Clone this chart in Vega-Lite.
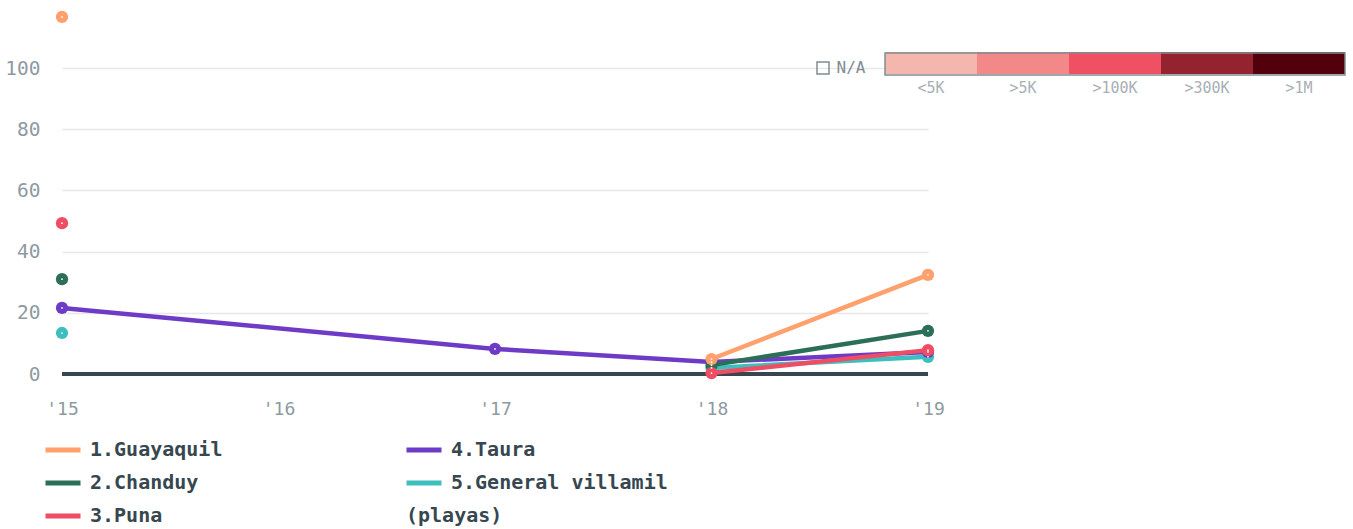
{
  "$schema": "https://vega.github.io/schema/vega-lite/v6.json",
  "width": 866,
  "height": 306,
  "autosize": {"type": "none"},
  "padding": {"left": 62, "top": 68, "right": 425, "bottom": 155},
  "background": "white",
  "config": {"view": {"stroke": null}, "font": "DejaVu Sans Mono"},
  "datasets": {
    "series": [
      {"series": "5.General villamil (playas)", "year": 2015, "value": 13.4, "seg": "a"},
      {"series": "5.General villamil (playas)", "year": 2018, "value": 2.0, "seg": "b"},
      {"series": "5.General villamil (playas)", "year": 2019, "value": 5.6, "seg": "b"},
      {"series": "4.Taura", "year": 2015, "value": 21.6, "seg": "a"},
      {"series": "4.Taura", "year": 2017, "value": 8.2, "seg": "a"},
      {"series": "4.Taura", "year": 2018, "value": 3.9, "seg": "a"},
      {"series": "4.Taura", "year": 2019, "value": 7.2, "seg": "a"},
      {"series": "2.Chanduy", "year": 2015, "value": 31.0, "seg": "a"},
      {"series": "2.Chanduy", "year": 2018, "value": 2.9, "seg": "b"},
      {"series": "2.Chanduy", "year": 2019, "value": 14.1, "seg": "b"},
      {"series": "3.Puna", "year": 2015, "value": 49.3, "seg": "a"},
      {"series": "3.Puna", "year": 2018, "value": 0.3, "seg": "b"},
      {"series": "3.Puna", "year": 2019, "value": 7.8, "seg": "b"},
      {"series": "1.Guayaquil", "year": 2015, "value": 116.7, "seg": "a"},
      {"series": "1.Guayaquil", "year": 2018, "value": 4.9, "seg": "b"},
      {"series": "1.Guayaquil", "year": 2019, "value": 32.4, "seg": "b"}
    ],
    "bands": [
      {"band": "<5K"}, {"band": ">5K"}, {"band": ">100K"}, {"band": ">300K"}, {"band": ">1M"}
    ],
    "na": [{"na": "N/A"}],
    "frame": [{"frame": "frame"}]
  },
  "layer": [
    {
      "data": {"name": "series"},
      "mark": {"type": "rule", "color": "#37474f", "strokeWidth": 3},
      "encoding": {"y": {"datum": 0, "type": "quantitative", "scale": {"domain": [0, 100], "nice": false}}}
    },
    {
      "data": {"name": "series"},
      "mark": {"type": "line", "strokeWidth": 4.5, "strokeCap": "round"},
      "encoding": {
        "x": {
          "field": "year", "type": "quantitative",
          "scale": {"domain": [2015, 2019], "nice": false, "zero": false},
          "axis": {
            "values": [2015, 2016, 2017, 2018, 2019],
            "labelExpr": "\"'\" + slice(toString(datum.value), 2)",
            "grid": false, "domain": false, "ticks": false, "tickSize": 0,
            "labelPadding": 26, "labelFlush": false,
            "labelFont": "DejaVu Sans Mono", "labelFontSize": 18, "labelColor": "#8e9aa1",
            "title": null
          }
        },
        "y": {
          "field": "value", "type": "quantitative",
          "scale": {"domain": [0, 100], "nice": false},
          "axis": {
            "values": [0, 20, 40, 60, 80, 100],
            "grid": true, "gridColor": "#e8e8e8", "gridWidth": 1.5,
            "domain": false, "ticks": false, "tickSize": 0, "labelPadding": 22,
            "labelFont": "DejaVu Sans Mono", "labelFontSize": 19.5, "labelColor": "#8e9aa1",
            "title": null
          }
        },
        "color": {
          "field": "series", "type": "nominal",
          "scale": {
            "domain": ["1.Guayaquil", "2.Chanduy", "3.Puna", "4.Taura", "5.General villamil (playas)", "(playas)"],
            "range": ["#ffa06d", "#2c6f57", "#ee4d63", "#6e3bc6", "#3fbebe", "transparent"]
          },
          "legend": {
            "title": null, "orient": "none", "legendX": -19, "legendY": 372,
            "columns": 2, "symbolType": "stroke", "symbolSize": 1225, "symbolStrokeWidth": 5,
            "labelFont": "DejaVu Sans Mono", "labelFontSize": 20, "labelFontWeight": "bold",
            "labelColor": "#37474f", "labelOffset": 7, "columnPadding": 181, "rowPadding": 13,
            "clipHeight": 20, "labelLimit": 400, "padding": 0,
            "labelExpr": "replace(datum.label, ' (playas)', '')",
            "encode": {
              "labels": {
                "update": {"dx": {"signal": "datum.label === '(playas)' ? -45 : 0"}}
              }
            }
          }
        },
        "detail": {"field": "seg"}
      }
    },
    {
      "data": {"name": "series"},
      "mark": {"type": "circle", "size": 150, "opacity": 1},
      "encoding": {
        "x": {"field": "year", "type": "quantitative"},
        "y": {"field": "value", "type": "quantitative"},
        "color": {"field": "series", "type": "nominal"}
      }
    },
    {
      "data": {"name": "series"},
      "mark": {"type": "circle", "size": 3, "color": "white", "opacity": 1},
      "encoding": {
        "x": {"field": "year", "type": "quantitative"},
        "y": {"field": "value", "type": "quantitative"}
      }
    },
    {
      "data": {"name": "bands"},
      "mark": {"type": "square", "opacity": 0},
      "encoding": {
        "fill": {
          "field": "band", "type": "nominal",
          "scale": {
            "domain": ["<5K", ">5K", ">100K", ">300K", ">1M"],
            "range": ["#f4b7ad", "#f28888", "#ef5064", "#95222f", "#52000c"]
          },
          "legend": {
            "title": null, "orient": "none", "legendX": 823, "legendY": -26,
            "direction": "horizontal", "columns": 5,
            "symbolType": "M-1,-0.7826H1V-0.3043H-1Z", "symbolSize": 8464,
            "symbolStrokeWidth": 0, "symbolOpacity": 1,
            "labelAlign": "center", "labelOffset": -46,
            "labelFont": "DejaVu Sans Mono", "labelFontSize": 15, "labelColor": "#a8b0b5",
            "columnPadding": 0, "padding": 0
          }
        }
      }
    },
    {
      "data": {"name": "na"},
      "mark": {"type": "point", "opacity": 0, "color": "#7f8c92"},
      "encoding": {
        "shape": {
          "field": "na", "type": "nominal",
          "scale": {"domain": ["N/A"], "range": ["square"]},
          "legend": {
            "title": null, "orient": "none", "legendX": 753, "legendY": -8,
            "symbolSize": 144, "symbolStrokeWidth": 1.5, "symbolStrokeColor": "#7f8c92",
            "symbolFillColor": "transparent", "symbolOpacity": 1,
            "labelOffset": 5.5, "labelFont": "DejaVu Sans Mono", "labelFontSize": 16,
            "labelColor": "#7f8c92", "padding": 0
          }
        }
      }
    },
    {
      "data": {"name": "frame"},
      "mark": {"type": "point", "opacity": 0},
      "encoding": {
        "stroke": {
          "field": "frame", "type": "nominal",
          "scale": {"domain": ["frame"], "range": ["#7f8c92"]},
          "legend": {
            "title": null, "orient": "none", "legendX": 822, "legendY": -235,
            "symbolType": "M-1,-0.0478H1V0.0478H-1Z", "symbolSize": 211600,
            "symbolFillColor": "transparent",
            "symbolStrokeWidth": 1.5, "symbolOpacity": 1,
            "labelExpr": "''", "padding": 0
          }
        }
      }
    }
  ]
}
